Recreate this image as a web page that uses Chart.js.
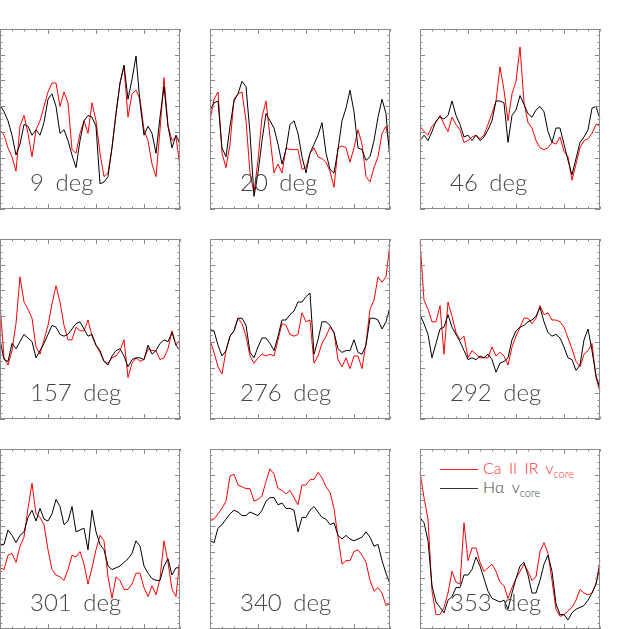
<!DOCTYPE html>
<html>
<head>
<meta charset="utf-8">
<script src="https://cdn.jsdelivr.net/npm/chart.js"></script>
<style>
  body { margin: 0; background: #fff; width: 629px; height: 629px; overflow: hidden; position: relative; font-family: Lato, "Liberation Sans", sans-serif; }
  .box { position: absolute; width: 182px; height: 182px; }
  .lbl { position: absolute; font-size: 24px; line-height: 24px; font-weight: 300; color: #444; white-space: pre; word-spacing: 5px; }
  .key { position: absolute; height: 1px; width: 38px; left: 440px; }
  .ktxt { position: absolute; left: 483px; font-size: 16px; line-height: 16px; font-weight: 300; white-space: pre; word-spacing: 3px; }
  .ktxt span { font-size: 11px; position: relative; top: 4px; }
</style>
</head>
<body>
<div class="key" style="top:469px;background:#f22"></div>
<div class="ktxt" style="top:460px;color:#f33">Ca II IR v<span>core</span></div>
<div class="key" style="top:488px;background:#333"></div>
<div class="ktxt" style="top:479px;color:#444">Hα v<span>core</span></div>
<script>
// frame number along each time series (sampled every 4 px of the panel)
const frames = [0,1,2,3,4,5,6,7,8,9,10,11,12,13,14,15,16,17,18,19,20,21,22,23,24,25,26,27,28,29,30,31,32,33,34,35,36,37,38,39,40,41,42,43,44,45];

// panel titles (position angle)
const angles = ['9 deg', '20 deg', '46 deg', '157 deg', '276 deg', '292 deg', '301 deg', '340 deg', '353 deg'];

// H-alpha core velocity (black), normalised 0..100 panel height
const ha9   = [58,54,49,41,30,36,47,46,41,44,41,48,61,64,57,42,44,38,30,23,38,49,52,51,46,14,15,18,34,53,70,80,61,72,85,59,41,46,42,31,51,68,46,34,41,36];
const ha20  = [55,59,60,34,29,46,60,64,71,68,42,7,20,38,53,49,45,36,25,33,47,49,42,29,20,31,36,41,48,31,22,20,33,49,56,66,54,34,33,27,29,38,51,61,53,27];
const ha46  = [38,41,38,43,49,51,50,52,60,52,47,40,41,38,41,38,40,44,49,60,60,59,37,52,55,63,58,53,51,55,57,54,43,37,45,45,36,27,19,28,37,40,44,56,57,50];
const ha157 = [44,33,32,42,39,43,47,45,43,34,38,42,47,52,51,47,46,47,50,53,54,50,46,47,41,38,32,30,35,38,39,35,29,33,34,34,33,41,36,38,42,44,43,48,41,38];
const ha276 = [49,49,41,35,38,46,49,56,56,52,37,34,40,45,45,42,38,46,55,55,58,60,65,65,68,70,36,44,54,54,52,48,39,37,38,38,44,37,36,41,56,56,55,50,54,62];
const ha292 = [58,53,47,34,42,50,51,58,51,47,43,38,33,34,33,35,34,36,33,26,31,32,34,44,49,51,52,54,55,57,62,54,48,46,47,45,40,34,33,27,30,44,50,38,24,17];
const ha301 = [47,47,55,52,48,52,54,62,66,60,67,61,60,64,72,68,58,60,68,54,55,56,44,66,54,47,44,35,33,34,35,37,39,42,49,46,35,31,28,27,27,35,39,30,34,34];
const ha340 = [49,48,56,58,61,64,66,65,63,63,65,64,63,66,71,73,73,69,70,67,67,66,54,62,62,66,68,65,62,61,58,59,52,50,52,50,49,50,51,54,51,46,47,38,31,25];
const ha353 = [62,59,49,24,15,12,9,16,18,23,23,30,30,33,40,35,28,21,17,16,15,16,11,20,28,35,37,30,20,20,27,36,41,32,14,8,8,5,9,11,12,13,16,20,25,35];

// Ca II IR core velocity (red)
const ca9   = [44,41,34,29,21,46,52,42,29,44,49,57,65,70,70,57,65,59,33,31,42,49,42,59,49,31,18,20,34,53,70,79,51,64,66,61,44,38,25,18,44,73,46,38,40,23];
const ca20  = [49,61,65,31,23,36,61,64,65,49,20,9,27,51,60,40,20,25,20,34,33,33,33,22,23,31,34,29,28,26,21,12,34,35,34,26,34,44,36,18,15,23,29,42,46,33];
const ca46  = [46,43,41,46,48,52,47,43,51,47,44,37,38,40,41,39,41,47,53,60,79,66,49,64,71,90,59,48,45,38,34,33,34,37,36,40,32,29,16,25,34,38,39,42,47,47];
const ca157 = [64,34,30,38,53,79,65,61,56,40,36,44,52,64,74,65,52,44,44,51,49,49,55,46,41,37,32,31,34,35,38,44,23,31,34,32,33,39,38,38,33,34,39,49,41,44];
const ca276 = [44,37,29,25,38,46,49,56,53,46,35,31,34,36,35,36,35,44,53,52,47,46,47,59,54,55,31,35,42,46,51,48,33,29,34,28,35,35,28,42,61,66,79,76,79,97];
const ca292 = [99,66,61,54,54,63,36,65,57,48,44,46,34,38,36,34,34,34,40,35,37,35,30,40,46,51,56,56,53,56,63,58,59,55,55,54,51,45,39,32,29,36,38,42,23,15];
const ca301 = [34,33,41,42,37,46,51,67,81,64,62,58,44,33,30,29,27,33,41,40,43,36,25,34,44,52,49,29,17,29,27,22,22,25,31,31,23,18,24,19,28,49,37,22,18,40];
const ca340 = [61,61,64,67,71,85,86,80,79,78,78,71,72,74,82,89,86,78,77,75,77,73,69,80,80,83,83,87,84,79,76,67,51,36,38,38,43,44,41,37,27,21,23,20,13,14];
const ca353 = [87,73,61,21,8,8,12,20,32,26,25,59,38,45,45,37,32,34,36,32,26,24,17,23,28,32,36,32,27,29,43,48,42,27,11,7,8,10,12,16,22,20,19,20,25,38];

const haSets = [ha9, ha20, ha46, ha157, ha276, ha292, ha301, ha340, ha353];
const caSets = [ca9, ca20, ca46, ca157, ca276, ca292, ca301, ca340, ca353];

// box + inward ticks on all four sides, like the IDL plot
const frame = {
  id: 'frame',
  afterDraw(chart) {
    const { ctx, chartArea: a, scales: { x, y } } = chart;
    ctx.save();
    ctx.strokeStyle = '#8a8a8a';
    ctx.lineWidth = 1;
    ctx.strokeRect(a.left + 0.5, a.top + 0.5, a.right - a.left - 1, a.bottom - a.top - 1);
    ctx.beginPath();
    for (let f = 0; f <= 45; f += 3) {
      const px = Math.round(x.getPixelForValue(f)) + 0.5;
      const len = f % 12 === 0 ? 5 : 2.5;
      ctx.moveTo(px, a.bottom); ctx.lineTo(px, a.bottom - len);
      ctx.moveTo(px, a.top); ctx.lineTo(px, a.top + len);
    }
    for (let k = 0; k <= 28; k++) {
      const py = Math.round(y.getPixelForValue(k * 100 / 28)) + 0.5;
      const len = k % 4 === 0 ? 5 : 2.5;
      ctx.moveTo(a.left, py); ctx.lineTo(a.left + len, py);
      ctx.moveTo(a.right, py); ctx.lineTo(a.right - len, py);
    }
    ctx.stroke();
    ctx.restore();
  }
};

angles.forEach((name, i) => {
  const col = i % 3, row = Math.floor(i / 3);
  const box = document.createElement('div');
  box.className = 'box';
  box.style.left = (210 * col - 1) + 'px';
  box.style.top = (29 + 210 * row - 1) + 'px';
  const cv = document.createElement('canvas');
  cv.width = 182; cv.height = 182;
  box.appendChild(cv);
  document.body.appendChild(box);

  const lbl = document.createElement('div');
  lbl.className = 'lbl';
  lbl.textContent = name;
  lbl.style.left = (210 * col + 30) + 'px';
  lbl.style.top = (29 + 210 * row + 141) + 'px';
  document.body.appendChild(lbl);

  new Chart(cv, {
    type: 'line',
    data: {
      labels: frames,
      datasets: [
        { label: 'H\u03b1 v_core', data: haSets[i], borderColor: '#000', borderWidth: 1, pointRadius: 0, tension: 0 },
        { label: 'Ca II IR v_core', data: caSets[i], borderColor: 'rgb(255,0,0)', borderWidth: 1, pointRadius: 0, tension: 0 }
      ]
    },
    options: {
      responsive: false,
      animation: false,
      layout: { padding: 1 },
      plugins: { legend: { display: false }, tooltip: { enabled: false } },
      scales: {
        x: { type: 'category', display: false, offset: false },
        y: { display: false, min: 0, max: 100 }
      }
    },
    plugins: [frame]
  });
});
</script>
</body>
</html>
